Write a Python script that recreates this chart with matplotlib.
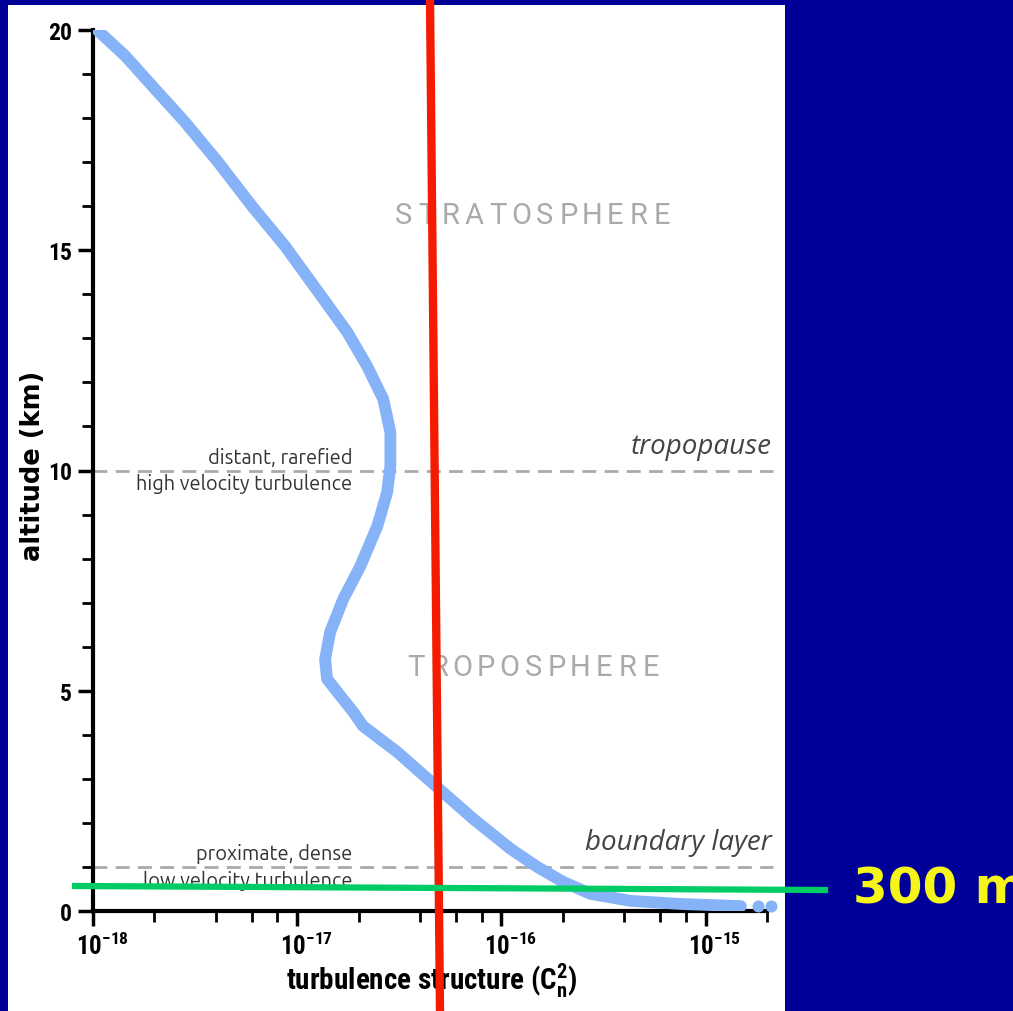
import matplotlib.pyplot as plt
from matplotlib.lines import Line2D
from matplotlib.patches import Rectangle
from matplotlib.ticker import LogLocator, FixedLocator, NullFormatter
from matplotlib.transforms import ScaledTranslation
import numpy as np

# altitude (km) vs Cn^2 profile
alt = [19.98, 19.41, 18.73, 17.91, 17.0, 16.0, 15.09, 14.05, 13.14, 12.37, 11.62,
       10.87, 10.10, 9.51, 8.74, 7.83, 7.08, 6.33, 5.72, 5.27, 4.88, 4.52, 4.20,
       3.61, 2.81, 2.09, 1.41, 1.00, 0.66, 0.39, 0.23, 0.16, 0.11]
cn2 = [1.06e-18, 1.44e-18, 1.95e-18, 2.82e-18, 4.10e-18, 6.01e-18, 8.73e-18,
       1.27e-17, 1.76e-17, 2.20e-17, 2.64e-17, 2.86e-17, 2.86e-17, 2.76e-17,
       2.47e-17, 2.04e-17, 1.68e-17, 1.45e-17, 1.37e-17, 1.40e-17, 1.63e-17,
       1.88e-17, 2.10e-17, 3.09e-17, 4.85e-17, 7.29e-17, 1.11e-16, 1.50e-16,
       2.01e-16, 2.73e-16, 4.29e-16, 7.53e-16, 1.49e-15]
dot_cn2 = [1.80e-15, 2.09e-15]
dot_alt = [0.11, 0.11]

layer_alt = [10, 1]
layer_names = ['tropopause', 'boundary layer']
layer_notes = [('distant, rarefied', 'high velocity turbulence'),
               ('proximate, dense', 'low velocity turbulence')]
regions = ['STRATOSPHERE', 'TROPOSPHERE']
region_alt = [15.8, 5.54]
yticks_major = [0, 5, 10, 15, 20]

bg = '#000099'
curve_col = '#86b2f7'
main_font = ['Roboto Condensed', 'DejaVu Sans']
note_font = ['Ubuntu', 'Open Sans', 'DejaVu Sans']
plt.rcParams['mathtext.fontset'] = 'custom'
plt.rcParams['mathtext.bf'] = 'Roboto Condensed:bold'
plt.rcParams['mathtext.rm'] = 'Roboto Condensed:bold'

fig = plt.figure(figsize=(10.13, 10.12), dpi=100, facecolor=bg)
fig.patches.append(Rectangle((8/1013, 0), 777/1013, 1006/1012, transform=fig.transFigure,
                             facecolor='white', edgecolor='none', zorder=-5))
ax = fig.add_axes([93/1013, 100/1012, 674/1013, 881/1012])
ax.set_facecolor('none')
ax.set_zorder(2)

ax.plot(cn2, alt, color=curve_col, lw=8.5, solid_capstyle='round', solid_joinstyle='round', zorder=3)
ax.scatter(dot_cn2, dot_alt, s=75, color=curve_col, zorder=3, linewidths=0, clip_on=False)

ax.set_xscale('log')
ax.set_xlim(1e-18, 2e-15)
ax.set_ylim(0, 20)

for a in layer_alt:
    ax.plot([1e-18, 2.15e-15], [a, a], color='#aaaaaa', lw=2, dashes=(5, 3), clip_on=False, zorder=2)
for a, n in zip(layer_alt, layer_names):
    ax.text(2.1e-15, a + 0.56, n, ha='right', va='center', fontsize=20, style='italic',
            color='#444444', family=['Open Sans', 'DejaVu Sans'])
for a, (top, bot) in zip(layer_alt, layer_notes):
    ax.text(1.86e-17, a + 0.31, top, ha='right', va='center', fontsize=14.4, color='#333333',
            family=note_font)
    ax.text(1.86e-17, a - 0.29, bot, ha='right', va='center', fontsize=14.4, color='#333333',
            family=note_font)

# letter-spaced region names
for word, a in zip(regions, region_alt):
    step = 23.5 / 674
    x0 = 0.653 - step * (len(word) - 1) / 2
    for i, ch in enumerate(word):
        ax.text(x0 + i * step, a / 20, ch, transform=ax.transAxes, ha='center', va='center',
                fontsize=21, color='#aaaaaa', family=['Roboto', 'DejaVu Sans'])

for s in ['top', 'right']:
    ax.spines[s].set_visible(False)
for s in ['left', 'bottom']:
    ax.spines[s].set_linewidth(3)
ax.xaxis.set_major_locator(LogLocator(base=10, numticks=10))
ax.xaxis.set_minor_locator(LogLocator(base=10, subs=[2, 4, 6, 8], numticks=10))
ax.xaxis.set_minor_formatter(NullFormatter())
ax.xaxis.set_major_formatter(lambda v, p: r'$\mathbf{10^{%d}}$' % round(np.log10(v)))
ax.set_yticks(yticks_major)
ax.yaxis.set_minor_locator(FixedLocator(range(0, 21)))
ax.tick_params(which='major', length=11, width=2.5, labelsize=17, pad=4)
ax.tick_params(axis='x', which='major', labelsize=18)
ax.tick_params(which='minor', length=8, width=2)
for lab in ax.get_yticklabels():
    lab.set_family(main_font)
    lab.set_fontweight('bold')
# the "10" sits over the tick, exponent hangs to the right
shift = ScaledTranslation(9 / 100, 0, fig.dpi_scale_trans)
for lab in ax.get_xticklabels():
    lab.set_transform(lab.get_transform() + shift)

ax.set_ylabel('altitude (km)', fontsize=18.5, fontweight='bold', family=['DejaVu Sans'])
ax.yaxis.set_label_coords(-0.07, 0.506)
ax.set_xlabel(r'turbulence structure (C$\mathbf{_n^2}$)', fontsize=21, fontweight='bold',
              family=main_font)
ax.xaxis.set_label_coords(0.503, -0.056)

# overlay annotations in figure pixels
red_x = [430 / 1013, 440 / 1013]
red_y = [1.0, 0.0]
green_x = [75 / 1013, 825 / 1013]
green_y = [(1012 - 887) / 1012, (1012 - 891) / 1012]
fig.add_artist(Line2D(red_x, red_y, color='#f51b00', lw=6, transform=fig.transFigure, zorder=10))
fig.add_artist(Line2D(green_x, green_y, color='#00cc66', lw=4.5, transform=fig.transFigure, zorder=10))
fig.text(853 / 1013, (1012 - 890) / 1012, '300 m', color='#f5f519', fontsize=36, fontweight='bold',
         va='center', ha='left', family=['DejaVu Sans'])

fig.savefig('out.png', dpi=100, facecolor=bg)
